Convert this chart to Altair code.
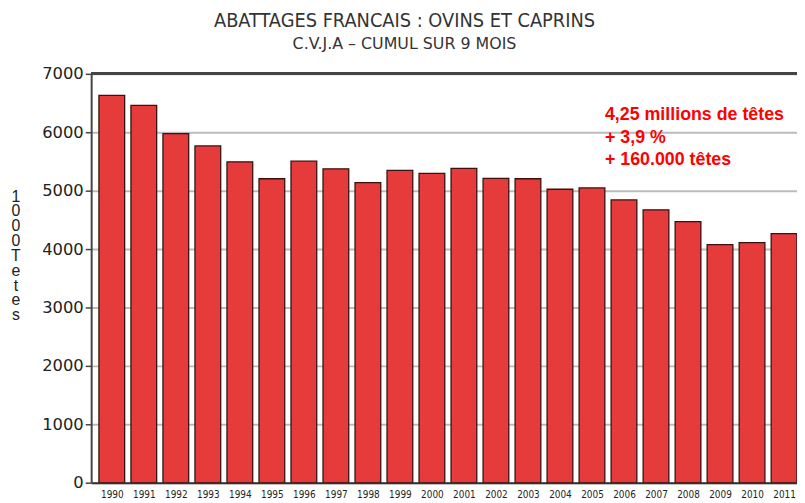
import altair as alt
import pandas as pd

years = list(range(1990, 2012))
values = [6631, 6461, 5975, 5765, 5493, 5204, 5505, 5374, 5136, 5347,
          5296, 5381, 5211, 5204, 5024, 5046, 4842, 4672, 4468, 4077,
          4111, 4264]
y_ticks = [0, 1000, 2000, 3000, 4000, 5000, 6000, 7000]
y_title = ["1", "0", "0", "0", "\u00a0", "T", "e", "t", "e", "s"]
note_lines = ["4,25 millions de têtes", "+ 3,9 %", "+ 160.000 têtes"]

df = pd.DataFrame({"year": years, "value": values})

W, H = 713, 413

bars = alt.Chart(df).mark_bar(
    size=26, fill="#E53B3B", stroke="#3a1010", strokeWidth=1.3, clip=True
).encode(
    x=alt.X("year:Q",
            scale=alt.Scale(domain=[1989.51, 2011.25], nice=False, zero=False),
            axis=alt.Axis(values=years, format="d", title=None, grid=False,
                          ticks=False, labelFont="DejaVu Sans Condensed",
                          labelFontSize=10, labelColor="#222", labelPadding=7,
                          labelOverlap=False, labelBound=False, labelFlush=False,
                          domainColor="#333", domainWidth=2)),
    y=alt.Y("value:Q",
            scale=alt.Scale(domain=[0, 7000], nice=False),
            axis=alt.Axis(values=y_ticks, format="d", title=None,
                          labelFont="DejaVu Sans", labelFontSize=16.5,
                          labelColor="#222", labelPadding=2,
                          tickSize=6, tickColor="#444", tickWidth=1.5,
                          domainColor="#444", domainWidth=2,
                          grid=True, gridColor="#BBBBBB", gridWidth=2)),
)

top_rule = alt.Chart(df).mark_rule(color="#444", strokeWidth=2).encode(
    x=alt.value(0), x2=alt.value(W), y=alt.value(0)
)

ytitle = alt.Chart(pd.DataFrame({"t": [y_title]})).mark_text(
    align="center", baseline="top", font="Liberation Sans",
    fontSize=16, color="#222", lineHeight=15
).encode(
    text="t", x=alt.value(-76), y=alt.value(116)
)

note = alt.Chart(pd.DataFrame({"t": [note_lines]})).mark_text(
    align="left", baseline="alphabetic", font="Liberation Sans",
    fontSize=18, fontWeight="bold", color="#FF0000", lineHeight=22.5
).encode(
    text="t", x=alt.value(519), y=alt.value(47)
)

chart = alt.layer(bars, top_rule, ytitle, note).properties(
    width=W, height=H,
    autosize=alt.AutoSizeParams(type="none"),
    padding={"left": 84, "top": 64, "right": 0, "bottom": 18},
    title=alt.TitleParams(
        text="ABATTAGES FRANCAIS : OVINS ET CAPRINS",
        subtitle="C.V.J.A – CUMUL SUR 9 MOIS",
        font="DejaVu Sans Condensed", subtitleFont="DejaVu Sans",
        fontSize=20, subtitleFontSize=16, fontWeight="normal",
        color="#333", subtitleColor="#333", anchor="middle", dx=-40,
        offset=14, subtitlePadding=5),
).configure_view(stroke=None)

chart.save("out.html", embed_options={"renderer": "svg", "actions": False})
